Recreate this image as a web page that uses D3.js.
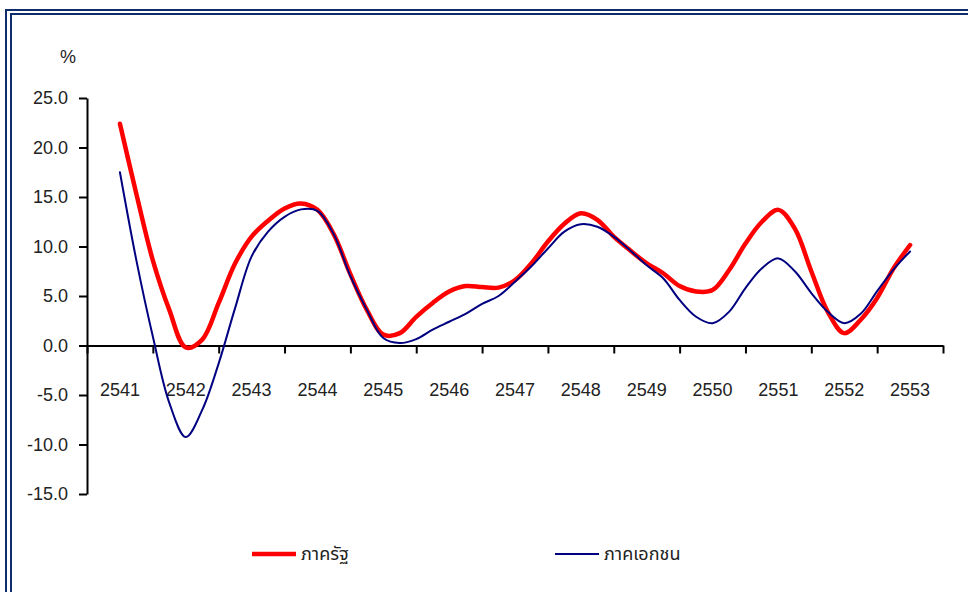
<!DOCTYPE html>
<html>
<head>
<meta charset="utf-8">
<script src="https://cdn.jsdelivr.net/npm/d3@7"></script>
<style>
    body { margin: 0; background: #fff; }
    svg { display: block; font-family: "Liberation Sans", "Noto Sans", sans-serif; }
    .tick-label { font-size: 18px; fill: #222; }
    .legend-label { font-size: 18px; fill: #222; font-family: "Noto Sans Thai", "Noto Sans", "DejaVu Sans", sans-serif; }
</style>
</head>
<body>
<div class="chart-container"></div>
<script>
// Data: quarterly growth (%), from 2541 to 2553.
const years = ['2541', '2542', '2543', '2544', '2545', '2546', '2547',
    '2548', '2549', '2550', '2551', '2552', '2553'];
const yTicks = [25, 20, 15, 10, 5, 0, -5, -10, -15];
const seriesNames = ['ภาครัฐ', 'ภาคเอกชน'];

const publicValues = [22.4, 15.3, 8.6, 3.6, -0.2, 0.6, 4.3, 8.3,
    11.0, 12.6, 13.85, 14.35, 13.7, 11.2, 7.2, 3.6,
    1.1, 1.25, 2.9, 4.3, 5.45, 6.0, 5.9, 5.85,
    6.6, 8.3, 10.5, 12.3, 13.35, 12.7, 11.0, 9.6,
    8.3, 7.3, 6.0, 5.45, 5.6, 7.6, 10.3, 12.5,
    13.7, 11.8, 7.5, 3.4, 1.25, 2.6, 4.8, 7.8,
    10.15];
const privateValues = [17.5, 8.6, 0.9, -5.8, -9.25, -6.5, -1.8, 3.8,
    9.0, 11.5, 13.0, 13.75, 13.6, 11.2, 7.0, 3.6,
    0.75, 0.25, 0.65, 1.6, 2.4, 3.2, 4.2, 5.0,
    6.45, 8.0, 9.8, 11.5, 12.25, 12.0, 11.0, 9.6,
    8.1, 6.8, 4.6, 2.9, 2.25, 3.4, 5.8, 7.8,
    8.8, 7.5, 5.3, 3.4, 2.25, 3.2, 5.5, 7.7,
    9.5];

const svg = d3
    .select('.chart-container')
    .append('svg')
    .attr('width', 968)
    .attr('height', 592);

ready();

function ready() {
    const area = {left: 87, right: 943, top: 98, bottom: 494};

    const xBand = d3
        .scaleBand()
        .domain(years)
        .range([area.left, area.right]);

    // one unit = one year, 0 = middle of first year
    const xTime = d3
        .scaleLinear()
        .domain([-0.5, years.length - 0.5])
        .range([area.left, area.right]);

    const yScale = d3
        .scaleLinear()
        .domain([-15, 25])
        .range([area.bottom, area.top]);

    drawFrame();
    drawAxis(xBand, xTime, yScale);
    drawLine(publicValues, xTime, yScale, '#ff0000', 4.5);
    drawLine(privateValues, xTime, yScale, '#000080', 2);
    drawLegend();
}

function drawFrame() {
    const frame = svg.append('g').attr('fill', 'none').attr('stroke', '#0d2d6c').attr('stroke-width', 2);
    frame.append('rect').attr('x', 6).attr('y', 10).attr('width', 1000).attr('height', 700);
    frame.append('rect').attr('x', 11).attr('y', 14).attr('width', 1000).attr('height', 700);
}

function drawAxis(xBand, xTime, yScale) {
    const axisY = d3.axisLeft(yScale)
        .tickValues(yTicks)
        .tickFormat(d => d.toFixed(1))
        .tickSize(8)
        .tickSizeOuter(0)
        .tickPadding(11);

    const gy = svg
        .append('g')
        .attr('transform', `translate(${xTime.range()[0]}, 0)`)
        .call(axisY);
    gy.selectAll('path, line').attr('stroke', '#000').attr('stroke-width', 2);
    gy.selectAll('text').attr('class', 'tick-label').attr('font-family', null).attr('font-size', null);

    const boundaries = d3.range(years.length + 1).map(d => d - 0.5);
    const axisX = d3.axisBottom(xTime)
        .tickValues(boundaries)
        .tickFormat('')
        .tickSize(8)
        .tickSizeOuter(0);

    const gx = svg
        .append('g')
        .attr('transform', `translate(0, ${yScale(0)})`)
        .call(axisX);
    gx.selectAll('path, line').attr('stroke', '#000').attr('stroke-width', 2);

    svg
        .append('g')
        .selectAll('.x-label')
        .data(years)
        .enter()
        .append('text')
        .attr('class', 'tick-label')
        .attr('x', d => xBand(d) + xBand.bandwidth() / 2)
        .attr('y', yScale(0) + 44)
        .attr('text-anchor', 'middle')
        .attr('dominant-baseline', 'central')
        .text(d => d);

    svg
        .append('text')
        .attr('class', 'tick-label')
        .attr('x', 68)
        .attr('y', 57)
        .attr('text-anchor', 'middle')
        .attr('dominant-baseline', 'central')
        .text('%');
}

function drawLine(values, xTime, yScale, color, width) {
    const line = d3.line()
        .x((d, i) => xTime(i / 4))
        .y(d => yScale(d))
        .curve(d3.curveCatmullRom.alpha(0.5));

    svg
        .append('path')
        .datum(values)
        .attr('d', line)
        .attr('fill', 'none')
        .attr('stroke', color)
        .attr('stroke-width', width)
        .attr('stroke-linejoin', 'round')
        .attr('stroke-linecap', 'round');
}

function drawLegend() {
    const items = [
        {name: seriesNames[0], color: '#ff0000', width: 4.5, x: 252},
        {name: seriesNames[1], color: '#000080', width: 2, x: 555}
    ];

    const legend = svg
        .append('g')
        .selectAll('.legend-item')
        .data(items)
        .enter()
        .append('g')
        .attr('class', 'legend-item')
        .attr('transform', d => `translate(${d.x}, 554)`);

    legend.append('line')
        .attr('x1', 0)
        .attr('x2', 44)
        .attr('stroke', d => d.color)
        .attr('stroke-width', d => d.width);

    legend.append('text')
        .attr('class', 'legend-label')
        .attr('x', 49)
        .attr('dominant-baseline', 'central')
        .text(d => d.name);
}
</script>
</body>
</html>
